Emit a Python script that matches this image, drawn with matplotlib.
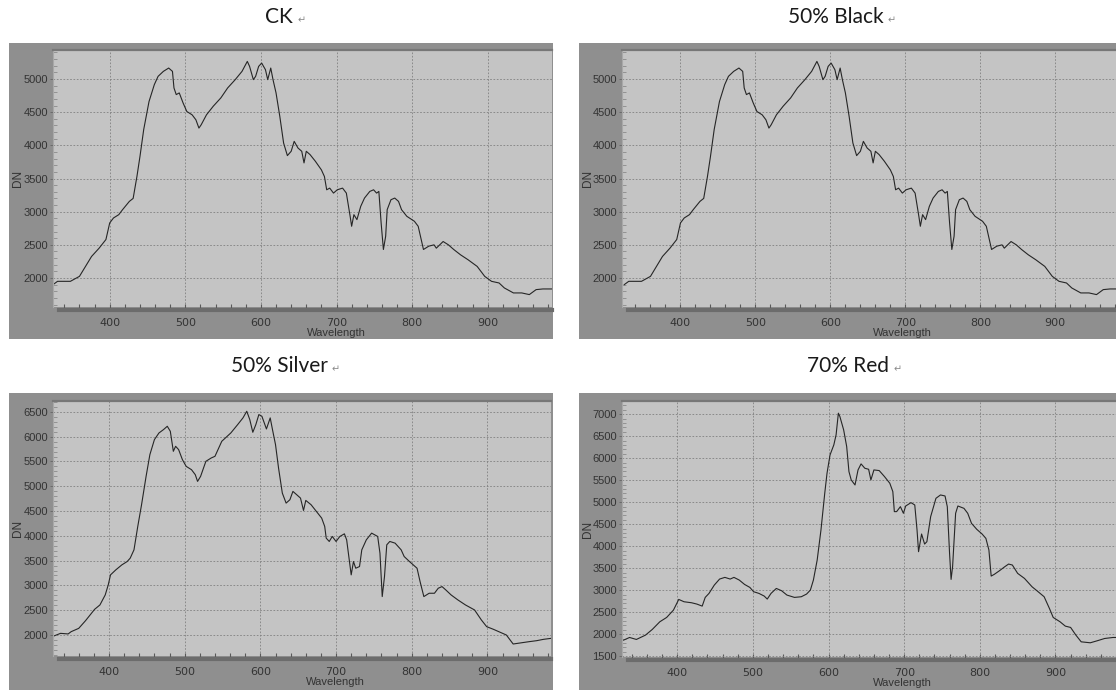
import matplotlib.pyplot as plt
from matplotlib.patches import Rectangle
from matplotlib.ticker import MultipleLocator

# four spectrometer screenshots, DN vs wavelength
W, H = 1116, 690

titles = ["CK", "50% Black", "50% Silver", "70% Red"]

# CK curve
ck_wl = [325, 331, 348, 360, 376, 386, 395, 400, 405, 412, 417, 426, 431, 436, 440, 445, 452, 459,
         464, 471, 478, 483, 485, 488, 492, 497, 502, 509, 514, 518, 521, 528, 537, 547, 556, 566,
         575, 582, 585, 590, 593, 597, 601, 606, 609, 613, 616, 620, 625, 630, 635, 640, 644, 649,
         654, 657, 660, 665, 672, 680, 684, 687, 691, 696, 701, 708, 713, 718, 720, 723, 727, 732,
         737, 744, 749, 753, 756, 759, 762, 765, 767, 772, 777, 782, 786, 793, 803, 808, 815, 822,
         829, 832, 841, 848, 855, 864, 874, 886, 896, 905, 915, 922, 934, 945, 955, 964, 973, 985]
ck_dn = [1900, 1950, 1950, 2025, 2325, 2450, 2580, 2830, 2905, 2955, 3030, 3155, 3200, 3530, 3830,
         4240, 4660, 4915, 5040, 5115, 5165, 5115, 4865, 4765, 4790, 4640, 4510, 4460, 4385, 4260,
         4310, 4460, 4590, 4715, 4865, 4990, 5115, 5265, 5190, 4990, 5040, 5190, 5240, 5140, 4990,
         5165, 4990, 4790, 4435, 4035, 3845, 3910, 4060, 3960, 3910, 3735, 3910, 3860, 3760, 3630,
         3530, 3330, 3355, 3280, 3330, 3355, 3280, 2930, 2780, 2955, 2880, 3080, 3205, 3305, 3330,
         3280, 3305, 2830, 2430, 2630, 3030, 3180, 3205, 3155, 3030, 2930, 2855, 2780, 2430, 2480,
         2500, 2450, 2550, 2500, 2430, 2350, 2275, 2175, 2025, 1950, 1925, 1850, 1775, 1775, 1750,
         1825, 1835, 1835]

# 50% Black reads the same as CK in the picture
black_wl = list(ck_wl)
black_dn = list(ck_dn)

# 50% Silver
silver_wl = [327, 336, 346, 350, 360, 369, 381, 388, 395, 399, 402, 409, 417, 424, 428, 433, 438,
             443, 449, 454, 460, 466, 472, 477, 481, 485, 488, 492, 497, 502, 509, 514, 517, 521,
             528, 535, 540, 549, 561, 570, 577, 582, 586, 590, 594, 598, 602, 608, 613, 616, 620,
             624, 629, 634, 639, 643, 648, 653, 657, 660, 667, 674, 681, 685, 687, 691, 695, 700,
             705, 711, 714, 718, 720, 723, 726, 731, 734, 740, 747, 755, 758, 761, 764, 767, 771,
             778, 786, 790, 797, 807, 811, 816, 823, 830, 835, 840, 845, 852, 861, 871, 883, 892,
             899, 908, 915, 925, 934, 946, 955, 965, 974, 984]
silver_dn = [1978, 2032, 2020, 2066, 2133, 2288, 2517, 2605, 2807, 3010, 3212, 3313, 3414, 3481,
             3549, 3717, 4189, 4627, 5200, 5638, 5941, 6075, 6143, 6210, 6109, 5705, 5806, 5739,
             5536, 5401, 5334, 5233, 5098, 5199, 5503, 5570, 5604, 5907, 6076, 6244, 6379, 6513,
             6345, 6089, 6244, 6446, 6412, 6156, 6379, 6143, 5840, 5368, 4862, 4660, 4728, 4896,
             4829, 4761, 4512, 4714, 4627, 4492, 4357, 4189, 3953, 3886, 3987, 3886, 3987, 4040,
             3919, 3447, 3212, 3481, 3346, 3380, 3717, 3919, 4054, 3987, 3650, 2774, 3178, 3818,
             3886, 3852, 3717, 3582, 3481, 3346, 3077, 2774, 2841, 2841, 2942, 2976, 2908, 2807,
             2706, 2605, 2504, 2302, 2167, 2113, 2066, 1999, 1817, 1844, 1864, 1884, 1911, 1931]

# 70% Red
red_wl = [329, 337, 346, 358, 367, 377, 386, 395, 402, 409, 419, 426, 433, 437, 442, 449, 456,
          463, 470, 475, 482, 489, 496, 501, 508, 515, 519, 524, 531, 538, 545, 555, 564, 571,
          576, 580, 585, 590, 595, 598, 602, 607, 610, 613, 615, 620, 624, 627, 630, 635, 639,
          643, 648, 653, 656, 660, 667, 674, 681, 685, 687, 690, 695, 699, 702, 709, 714, 717,
          719, 723, 727, 730, 735, 742, 748, 754, 757, 760, 762, 764, 768, 771, 779, 784, 789,
          796, 803, 808, 812, 815, 819, 826, 833, 838, 843, 850, 859, 869, 876, 885, 892, 897,
          906, 913, 920, 927, 934, 946, 955, 965, 976, 981]
red_dn = [1863, 1924, 1879, 1977, 2106, 2281, 2379, 2546, 2789, 2736, 2713, 2683, 2637, 2835,
          2926, 3115, 3252, 3290, 3252, 3290, 3229, 3130, 3062, 2964, 2926, 2865, 2797, 2926,
          3039, 2986, 2888, 2835, 2850, 2911, 3001, 3229, 3684, 4367, 5202, 5657, 6074, 6302,
          6530, 7023, 6947, 6643, 6264, 5695, 5505, 5391, 5733, 5870, 5771, 5748, 5505, 5733,
          5718, 5581, 5430, 5240, 4785, 4785, 4898, 4747, 4913, 4989, 4936, 4367, 3874, 4276,
          4048, 4101, 4671, 5088, 5164, 5141, 4898, 3836, 3244, 3533, 4747, 4913, 4860, 4747,
          4519, 4382, 4276, 4177, 3912, 3320, 3358, 3442, 3533, 3593, 3571, 3381, 3267, 3077,
          2979, 2850, 2584, 2379, 2281, 2182, 2152, 1977, 1825, 1803, 1848, 1901, 1924, 1924]

all_wl = [ck_wl, black_wl, silver_wl, red_wl]
all_dn = [ck_dn, black_dn, silver_dn, red_dn]

fig = plt.figure(figsize=(W / 100, H / 100), dpi=100)
fig.patch.set_facecolor('white')


def frac(x0, y0, x1, y1):
    return [x0 / W, 1 - y1 / H, (x1 - x0) / W, (y1 - y0) / H]


def panel(i, frame, box, xlim, ylim, ystep_start, ystep_end, title_xy):
    # dark grey widget frame behind the plot
    fr = frac(*frame)
    fig.patches.append(Rectangle((fr[0], fr[1]), fr[2], fr[3], transform=fig.transFigure,
                                 facecolor='#8f8f8f', edgecolor='none', zorder=-5))
    ax = fig.add_axes(frac(*box))
    ax.set_zorder(2)
    ax.set_facecolor('#c4c4c4')
    ax.plot(all_wl[i], all_dn[i], color='#262626', lw=0.8)
    ax.set_xlim(*xlim)
    ax.set_ylim(*ylim)

    ax.set_xticks(range(400, 1000, 100))
    ax.xaxis.set_minor_locator(MultipleLocator(20))
    ax.set_yticks(range(ystep_start, ystep_end + 1, 500))
    ax.yaxis.set_minor_locator(MultipleLocator(100))
    ax.grid(True, which='major', color='#808080', lw=0.6, linestyle=(0, (2, 2)))

    ax.tick_params(axis='x', which='both', direction='in', length=4, width=0.8,
                   color='#5a5a5a', labelsize=8, labelcolor='#333333', pad=6)
    ax.tick_params(axis='y', which='major', direction='out', length=2, width=0.7,
                   color='#6a6a6a', labelsize=8, labelcolor='#333333', pad=1.5)
    ax.tick_params(axis='y', which='minor', direction='in', length=3, width=0.6, color='#8a8a8a')
    for lab in ax.get_xticklabels() + ax.get_yticklabels():
        lab.set_fontfamily('Liberation Sans')

    bw = box[2] - box[0]
    bh = box[3] - box[1]
    ax.spines['right'].set_visible(False)
    ax.spines['top'].set_color('#777777')
    ax.spines['top'].set_linewidth(1.6)
    ax.spines['left'].set_color('#a8a8a8')
    ax.spines['left'].set_linewidth(0.8)
    ax.spines['bottom'].set_color('#6c6c6c')
    ax.spines['bottom'].set_linewidth(3)
    ax.spines['bottom'].set_position(('outward', 2))
    ax.spines['bottom'].set_bounds(xlim[0] + 6 * (xlim[1] - xlim[0]) / bw, xlim[1])

    ax.set_xlabel('Wavelength', fontsize=8, color='#333333', family='Liberation Sans')
    ax.xaxis.set_label_coords(0.567, -26 / bh)
    ax.xaxis.label.set_va('center')
    ax.set_ylabel('DN', fontsize=8.5, color='#333333', family='Liberation Sans')
    ax.yaxis.set_label_coords((frame[0] + 9 - box[0]) / bw, 0.5)
    ax.yaxis.label.set_va('center')

    t = fig.text(title_xy[0] / W, 1 - title_xy[1] / H, titles[i], ha='center', va='center',
                 fontsize=15, family='Lato', color='#1a1a1a')
    ax.annotate('\u21b5', xy=(1, 0.1), xycoords=t, xytext=(3, 0), textcoords='offset points',
                fontsize=7, color='#8a8a8a', family='DejaVu Sans', va='bottom',
                annotation_clip=False)
    return ax


panel(0, (9, 43, 553, 339), (53, 50, 552, 307), (325, 985), (1563, 5437), 2000, 5000, (279, 17))
panel(1, (579, 43, 1116, 339), (622, 50, 1116, 307), (322, 981), (1563, 5437), 2000, 5000, (836, 17))
panel(2, (9, 393, 553, 690), (53, 401, 551, 656), (326, 984), (1575, 6720), 2000, 6500, (279, 366))
panel(3, (579, 393, 1116, 690), (622, 401, 1116, 657), (327, 980), (1480, 7300), 1500, 7000, (848, 366))

plt.savefig('out.png', dpi=100, facecolor='white')
